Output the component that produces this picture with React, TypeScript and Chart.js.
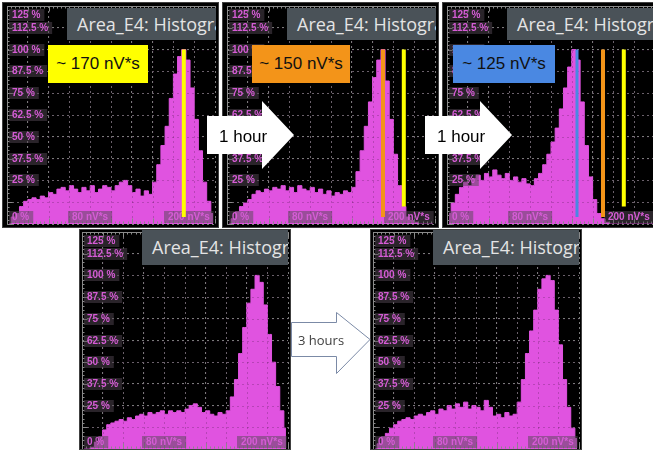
import React, { useEffect, useRef } from 'react';
import { Chart, registerables } from 'chart.js';

Chart.register(...registerables);

// ---------- data ----------
const X_BINS = [2, 6, 10, 14, 18, 22, 26, 30, 34, 38, 42, 46, 50, 54, 58, 62, 66, 70, 74, 78, 82, 86, 90, 94, 98, 102, 106, 110, 114, 118, 122, 126, 130, 134, 138, 142, 146, 150, 154, 158, 162, 166, 170, 174, 178, 182, 186, 190, 194, 198];

const HIST_START = [0, 4, 6, 10, 13, 14, 15, 14, 16, 15, 18, 17, 20, 21, 19, 22, 20, 18, 21, 19, 22, 18, 20, 22, 21, 19, 22, 24, 25, 22, 18, 20, 16, 19, 17, 24, 34, 45, 56, 72, 86, 96, 100, 94, 78, 60, 42, 24, 13, 6];
const HIST_1H = [0, 3, 7, 10, 12, 14, 17, 19, 18, 20, 19, 21, 20, 22, 19, 21, 18, 22, 20, 19, 21, 18, 20, 17, 19, 16, 18, 17, 19, 18, 21, 30, 42, 56, 70, 84, 94, 100, 82, 60, 40, 22, 10, 4, 2, 1, 0, 0, 0, 0];
const HIST_2H = [6, 12, 17, 21, 24, 22, 26, 28, 25, 29, 27, 31, 28, 26, 29, 25, 27, 24, 26, 23, 22, 26, 29, 34, 40, 47, 55, 66, 78, 90, 100, 94, 70, 45, 27, 14, 6, 3, 1, 0, 0, 0, 0, 0, 0, 0, 0, 0, 0, 0];
const HIST_B1 = [0, 0, 1, 4, 7, 11, 14, 15, 16, 17, 16, 18, 17, 19, 20, 19, 21, 20, 21, 22, 20, 22, 21, 22, 21, 23, 25, 26, 24, 21, 22, 20, 19, 21, 20, 22, 30, 40, 55, 70, 84, 92, 100, 96, 83, 66, 50, 36, 22, 12];
const HIST_B2 = [0, 3, 7, 9, 12, 14, 16, 17, 18, 17, 19, 20, 19, 21, 22, 20, 23, 22, 25, 23, 26, 24, 27, 23, 25, 24, 22, 28, 24, 19, 20, 18, 21, 19, 20, 27, 40, 55, 68, 80, 92, 98, 100, 97, 80, 60, 40, 24, 12, 6];

const Y_TICKS = [125, 112.5, 100, 87.5, 75, 62.5, 50, 37.5, 25, 0];
const X_TICKS = [80, 200];
const X_UNIT = 'nV*s';

// marker lines: [x value, top %, bottom %]
const MARK_YELLOW = [170, 100, 4];
const MARK_YELLOW_OLD = [170, 100, 10];
const MARK_ORANGE = [150, 100, 4];
const MARK_BLUE = [125, 100, 4];

const ANNOTATIONS = ['~ 170 nV*s', '~ 150 nV*s', '~ 125 nV*s'];
const TITLE = 'Area_E4: Histogram';

// ---------- styles ----------
const PINK = '#e053e0';
const GRID = '#7a7a7a';
const RULER = '#8a8a8a';
const LABEL_BG = 'rgba(84,72,84,0.5)';
const LABEL_FG = '#d65cd6';
const YELLOW = '#ffff00';
const ORANGE = '#f39419';
const BLUE = '#4a88e2';

const scopeDecor = {
  id: 'scopeDecor',
  afterDatasetDraw(chart: any, args: any) {
    if (chart.data.datasets[args.index].label !== 'hist') return;
    const { ctx, chartArea: a } = chart;
    const xs = chart.scales.x;
    const ys = chart.scales.y;
    ctx.save();
    // faint grid dots over the histogram
    ctx.strokeStyle = 'rgba(60,20,60,0.25)';
    ctx.lineWidth = 1;
    ctx.setLineDash([2, 3]);
    ctx.beginPath();
    for (let u = 20; u < 200; u += 20) {
      const px = Math.round(xs.getPixelForValue(u)) + 0.5;
      ctx.moveTo(px, a.top);
      ctx.lineTo(px, a.bottom);
    }
    for (let v = 12.5; v < 125; v += 12.5) {
      const py = Math.round(ys.getPixelForValue(v)) + 0.5;
      ctx.moveTo(a.left, py);
      ctx.lineTo(a.right, py);
    }
    ctx.stroke();
    ctx.setLineDash([]);

    // rulers
    ctx.strokeStyle = RULER;
    ctx.lineWidth = 1;
    ctx.beginPath();
    const lx = Math.round(a.left) + 0.5;
    ctx.moveTo(lx, a.top);
    ctx.lineTo(lx, a.bottom);
    for (let v = 0; v <= 125; v += 2.5) {
      const py = Math.round(ys.getPixelForValue(v)) + 0.5;
      const len = v % 12.5 === 0 ? 5 : 2;
      ctx.moveTo(lx, py);
      ctx.lineTo(lx + len, py);
    }
    const ty = Math.round(a.top) + 0.5;
    const by = Math.round(a.bottom) - 0.5;
    ctx.moveTo(a.left, ty);
    ctx.lineTo(a.right, ty);
    for (let u = 0; u <= 200; u += 4) {
      const px = Math.round(xs.getPixelForValue(u)) + 0.5;
      const len = u % 20 === 0 ? 5 : 2;
      ctx.moveTo(px, ty);
      ctx.lineTo(px, ty + len);
      ctx.moveTo(px, by);
      ctx.lineTo(px, by - len);
    }
    ctx.stroke();

    // labels
    ctx.font = 'bold 10px "Liberation Sans", Arial, sans-serif';
    ctx.textBaseline = 'middle';
    ctx.textAlign = 'left';
    Y_TICKS.forEach((v) => {
      let py = ys.getPixelForValue(v);
      py = Math.max(a.top + 9, Math.min(a.bottom - 7, py));
      const t = `${v} %`;
      const w = ctx.measureText(t).width;
      ctx.fillStyle = LABEL_BG;
      ctx.fillRect(Math.round(a.left) + 2, Math.round(py) - 6, w + 7, 12);
      ctx.fillStyle = LABEL_FG;
      ctx.fillText(t, a.left + 5, Math.round(py) + 0.5);
    });
    X_TICKS.forEach((v) => {
      const t = `${v} ${X_UNIT}`;
      const w = ctx.measureText(t).width + 8;
      const cx = xs.getPixelForValue(v);
      const x0 = Math.round(Math.min(cx - w / 2, a.right - 1 - w));
      const py = Math.round(a.bottom - 7);
      ctx.fillStyle = LABEL_BG;
      ctx.fillRect(x0, py - 6, w, 12);
      ctx.fillStyle = LABEL_FG;
      ctx.fillText(t, x0 + 4, py + 0.5);
    });
    ctx.restore();
  },
};

type Area = { l: number; t: number; r: number; b: number };
type PanelProps = {
  left: number;
  top: number;
  width: number;
  height: number;
  area: Area;
  hist: number[];
  markers: { m: number[]; color: string; width: number }[];
  titleLeft: number;
  titleTop: number;
  titleHeight: number;
};

function ScopePanel(p: PanelProps) {
  const ref = useRef<HTMLCanvasElement>(null);
  useEffect(() => {
    const gridOpts = { color: GRID, drawTicks: false, lineWidth: 1 };
    const chart = new Chart(ref.current as HTMLCanvasElement, {
      type: 'line',
      data: {
        datasets: [
          ...p.markers.map((mk) => ({
            label: 'marker',
            data: [
              { x: mk.m[0], y: mk.m[1] },
              { x: mk.m[0], y: mk.m[2] },
            ],
            borderColor: mk.color,
            backgroundColor: mk.color,
            borderWidth: mk.width,
            borderCapStyle: 'butt',
            pointRadius: 0,
            fill: false,
            order: 0,
          })),
          {
            label: 'hist',
            data: X_BINS.map((x, i) => ({ x, y: p.hist[i] })),
            stepped: 'middle',
            fill: 'origin',
            backgroundColor: PINK,
            borderColor: PINK,
            borderWidth: 1,
            pointRadius: 0,
            order: 1,
          },
        ],
      } as any,
      options: {
        animation: false,
        responsive: false,
        devicePixelRatio: 1,
        events: [],
        layout: {
          padding: { left: p.area.l, top: p.area.t, right: p.width - p.area.r, bottom: p.height - p.area.b },
        },
        plugins: { legend: { display: false }, tooltip: { enabled: false } },
        scales: {
          x: {
            type: 'linear',
            min: 0,
            max: 200,
            ticks: { display: false, stepSize: 20 },
            grid: gridOpts,
            border: { display: false, dash: [2, 3] },
          },
          y: {
            type: 'linear',
            min: 0,
            max: 125,
            ticks: { display: false, stepSize: 12.5 },
            grid: gridOpts,
            border: { display: false, dash: [2, 3] },
          },
        },
      } as any,
      plugins: [scopeDecor],
    });
    return () => chart.destroy();
  }, []);

  return (
    <div
      style={{
        position: 'absolute',
        left: p.left,
        top: p.top,
        width: p.width,
        height: p.height,
        background: '#000',
        overflow: 'hidden',
      }}
    >
      <canvas ref={ref} width={p.width} height={p.height} style={{ display: 'block', width: p.width, height: p.height }} />
      <div
        style={{
          position: 'absolute',
          left: p.titleLeft,
          top: p.titleTop,
          right: 3,
          height: p.titleHeight,
          background: '#4a5258',
          overflow: 'hidden',
          whiteSpace: 'nowrap',
          color: '#e4e4e4',
          font: '18px "Open Sans", "Noto Sans", sans-serif',
          lineHeight: `${p.titleHeight}px`,
          paddingLeft: 10,
        }}
      >
        {TITLE}
      </div>
      <div style={{ position: 'absolute', inset: 0, border: '1px solid #404040' }} />
    </div>
  );
}

function NoteBox({ left, top, width, height, bg, text }: any) {
  return (
    <div
      style={{
        position: 'absolute',
        left,
        top,
        width,
        height,
        background: bg,
        color: '#111',
        font: '17px "Liberation Sans", Arial, sans-serif',
        lineHeight: `${height}px`,
        textAlign: 'center',
        whiteSpace: 'nowrap',
      }}
    >
      {text}
    </div>
  );
}

export default function App() {
  const topArea = { l: 5, t: 4, r: 213, b: 222 };
  const botArea = { l: 3, t: 3, r: 209, b: 220 };
  return (
    <div
      style={{
        position: 'absolute',
        left: 0,
        top: 0,
        width: 653,
        height: 451,
        overflow: 'hidden',
        background: '#fff',
      }}
    >
      <ScopePanel left={2} top={2} width={217} height={226} area={topArea} hist={HIST_START}
        markers={[{ m: MARK_YELLOW, color: YELLOW, width: 4 }]}
        titleLeft={65} titleTop={6} titleHeight={32} />
      <ScopePanel left={222} top={2} width={217} height={226} area={topArea} hist={HIST_1H}
        markers={[{ m: MARK_ORANGE, color: ORANGE, width: 4 }, { m: MARK_YELLOW_OLD, color: YELLOW, width: 4 }]}
        titleLeft={65} titleTop={6} titleHeight={32} />
      <ScopePanel left={442} top={2} width={217} height={226} area={topArea} hist={HIST_2H}
        markers={[
          { m: MARK_BLUE, color: BLUE, width: 3 },
          { m: MARK_ORANGE, color: ORANGE, width: 4 },
          { m: MARK_YELLOW_OLD, color: YELLOW, width: 4 },
        ]}
        titleLeft={65} titleTop={6} titleHeight={32} />
      <ScopePanel left={79} top={229} width={212} height={221} area={botArea} hist={HIST_B1}
        markers={[]} titleLeft={63} titleTop={1} titleHeight={35} />
      <ScopePanel left={370} top={229} width={212} height={221} area={botArea} hist={HIST_B2}
        markers={[]} titleLeft={63} titleTop={1} titleHeight={35} />

      <NoteBox left={48} top={45} width={100} height={38} bg={YELLOW} text={ANNOTATIONS[0]} />
      <NoteBox left={252} top={45} width={98} height={38} bg={ORANGE} text={ANNOTATIONS[1]} />
      <NoteBox left={453} top={45} width={102} height={38} bg={BLUE} text={ANNOTATIONS[2]} />

      <svg width={653} height={451} style={{ position: 'absolute', left: 0, top: 0, pointerEvents: 'none' }}>
        <polygon points="207,116 262,116 262,101 294,135 262,169 262,154 207,154" fill="#fff" />
        <text x={219} y={136} dominantBaseline="central" fontSize={17} fontFamily='"Liberation Sans", Arial, sans-serif' fill="#000">1 hour</text>
        <polygon points="425,116 480,116 480,101 512,135 480,169 480,154 425,154" fill="#fff" />
        <text x={437} y={136} dominantBaseline="central" fontSize={17} fontFamily='"Liberation Sans", Arial, sans-serif' fill="#000">1 hour</text>
        <polygon points="291.5,322.5 336.5,322.5 336.5,312.5 370,339.5 336.5,373.5 336.5,356.5 291.5,356.5" fill="#fff" stroke="#7b8aa6" strokeWidth={1} />
        <text x={298} y={340} dominantBaseline="central" fontSize={13} fontFamily='"Open Sans", "Noto Sans", sans-serif' fill="#404040">3 hours</text>
      </svg>
    </div>
  );
}
